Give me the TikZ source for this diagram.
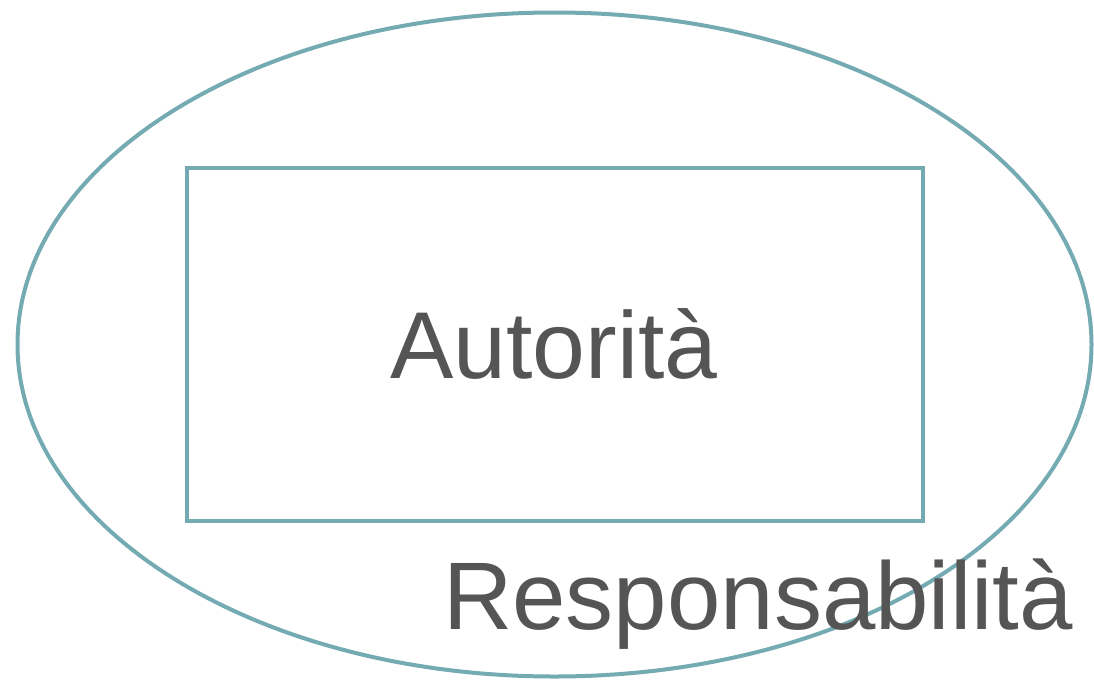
\documentclass[tikz,border=0pt]{standalone}
\usepackage{fontspec}
\setmainfont{Liberation Sans}
\definecolor{teal1}{HTML}{74AAB2}
\definecolor{txt}{HTML}{555555}
\tikzset{
  shapeline/.style={draw=teal1, line width=4pt},
  bigtext/.style={text=txt, inner sep=0pt, font=\fontsize{95}{100}\selectfont},
  resptext/.style={text=txt, inner sep=0pt, font=\fontsize{96}{100}\selectfont}
}
\begin{document}
\begin{tikzpicture}[x=1pt,y=-1pt]
\useasboundingbox (0,0) rectangle (1094,680);
\draw[shapeline] (554.5,344.5) ellipse [x radius=537, y radius=332];
\node[shapeline, rectangle, minimum width=736pt, minimum height=353pt, inner sep=0pt] (auth) at (555,344.5) {};
\node[bigtext, anchor=base] (autlabel) at (554,378) {Autorità};
\node[resptext, anchor=base west] (resp) at (443,629) {Responsabilità};
\end{tikzpicture}
\end{document}
